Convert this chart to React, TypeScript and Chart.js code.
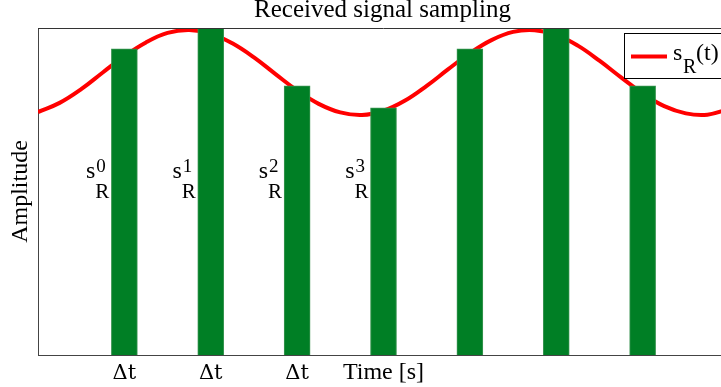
import React, { useEffect, useRef } from 'react';
import { Chart, registerables } from 'chart.js';

Chart.register(...registerables);

const TITLE = 'Received signal sampling';
const X_TITLE = 'Time [s]';
const Y_TITLE = 'Amplitude';
const LEGEND_MAIN = 's';
const LEGEND_SUB = 'R';
const LEGEND_TAIL = '(t)';
const SAMPLE_MAIN = 's';
const SAMPLE_SUB = 'R';
const DELTA_LABEL = 'Δt';

// continuous received signal s_R(t)
const signalTimes = [
  0, 0.25, 0.5, 0.75, 1, 1.25, 1.5, 1.75, 2, 2.25, 2.5, 2.75, 3, 3.25, 3.5, 3.75,
  4, 4.25, 4.5, 4.75, 5, 5.25, 5.5, 5.75, 6, 6.25, 6.5, 6.75, 7, 7.25, 7.5, 7.75, 8,
];
const signalValues = [
  0.743, 0.771, 0.813, 0.864, 0.914, 0.956, 0.985, 0.994, 0.983, 0.953, 0.91, 0.859,
  0.809, 0.768, 0.742, 0.734, 0.747, 0.778, 0.823, 0.874, 0.923, 0.963, 0.988, 0.993,
  0.979, 0.946, 0.9, 0.849, 0.8, 0.761, 0.739, 0.735, 0.752,
];

// sampled values (bars)
const sampleTimes = [1, 2, 3, 4, 5, 6, 7];
const sampleValues = [0.936, 1.0, 0.823, 0.756, 0.936, 1.0, 0.823];
// superscript indices for the first labelled samples
const sampleIndices = ['0', '1', '2', '3'];
// ticks that carry the Δt label
const deltaTickValues = [1, 2, 3];

const SERIF = '"Liberation Serif", "Times New Roman", serif';

const overlayPlugin = {
  id: 'overlay',
  afterDatasetsDraw(chart: any) {
    const { ctx, chartArea } = chart;
    ctx.save();
    // title
    ctx.fillStyle = '#000';
    ctx.font = `25px ${SERIF}`;
    ctx.textAlign = 'center';
    ctx.textBaseline = 'alphabetic';
    ctx.fillText(TITLE, (chartArea.left + chartArea.right) / 2 - 1, chartArea.top - 11);

    // top frame line
    ctx.strokeStyle = '#333';
    ctx.lineWidth = 1;
    ctx.beginPath();
    ctx.moveTo(chartArea.left, chartArea.top + 0.5);
    ctx.lineTo(chartArea.right, chartArea.top + 0.5);
    ctx.stroke();

    // sample labels s_R^k
    const barMeta = chart.getDatasetMeta(1);
    const yScale = chart.scales.y;
    const baseY = yScale.getPixelForValue(0.54);
    ctx.fillStyle = '#000';
    sampleIndices.forEach((idx, i) => {
      const bar = barMeta.data[i];
      if (!bar) return;
      const { x, width } = bar.getProps(['x', 'width'], true);
      const anchor = x - width / 2 - 2;
      ctx.font = `21px ${SERIF}`;
      const wSub = ctx.measureText(SAMPLE_SUB).width;
      const subLeft = anchor - wSub;
      ctx.textAlign = 'left';
      ctx.fillText(SAMPLE_SUB, subLeft, baseY + 19.5);
      ctx.font = `19px ${SERIF}`;
      ctx.fillText(idx, subLeft + 1, baseY - 6);
      ctx.font = `24px ${SERIF}`;
      ctx.textAlign = 'right';
      ctx.fillText(SAMPLE_MAIN, subLeft, baseY);
    });

    // legend box
    const bx = chartArea.right - 105;
    const by = chartArea.top + 5;
    ctx.fillStyle = '#fff';
    ctx.fillRect(bx, by, 120, 45);
    ctx.strokeStyle = '#000';
    ctx.lineWidth = 1;
    ctx.strokeRect(bx + 0.5, by + 0.5, 120, 45);
    ctx.strokeStyle = '#ff0000';
    ctx.lineWidth = 4;
    ctx.beginPath();
    ctx.moveTo(bx + 7, by + 23.5);
    ctx.lineTo(bx + 43, by + 23.5);
    ctx.stroke();
    ctx.fillStyle = '#000';
    ctx.textAlign = 'left';
    ctx.font = `24px ${SERIF}`;
    ctx.fillText(LEGEND_MAIN, bx + 49, by + 27);
    ctx.font = `20px ${SERIF}`;
    ctx.fillText(LEGEND_SUB, bx + 59, by + 40);
    ctx.font = `24px ${SERIF}`;
    ctx.fillText(LEGEND_TAIL, bx + 72, by + 27);
    ctx.restore();
  },
};

export default function App() {
  const ref = useRef<HTMLCanvasElement | null>(null);

  useEffect(() => {
    if (!ref.current) return;
    const chart = new Chart(ref.current, {
      type: 'line',
      data: {
        datasets: [
          {
            type: 'line',
            label: 's_R(t)',
            data: signalTimes.map((t, i) => ({ x: t, y: signalValues[i] })),
            borderColor: '#ff0000',
            borderWidth: 4,
            pointRadius: 0,
            tension: 0.4,
            fill: false,
            order: 2,
          },
          {
            type: 'bar',
            label: 'samples',
            data: sampleTimes.map((t, i) => ({ x: t, y: sampleValues[i] })),
            backgroundColor: '#007f25',
            borderColor: '#3a9552',
            borderWidth: 1,
            barThickness: 26,
            order: 1,
          } as any,
        ],
      },
      options: {
        responsive: false,
        animation: false,
        layout: { padding: { left: 0, top: 28, right: 11, bottom: 0 } },
        plugins: {
          legend: { display: false },
          tooltip: { enabled: false },
          title: { display: false },
        },
        scales: {
          x: {
            type: 'linear',
            min: 0,
            max: 8,
            offset: false,
            grid: { display: false, drawTicks: false },
            border: { display: true, color: '#444', width: 1 },
            ticks: {
              stepSize: 1,
              autoSkip: false,
              maxRotation: 0,
              padding: 6,
              color: '#000',
              font: { family: '"DejaVu Serif", serif', size: 21 },
              callback: (v: any) => (deltaTickValues.includes(Number(v)) ? DELTA_LABEL : ''),
            },
            title: {
              display: true,
              text: X_TITLE,
              color: '#000',
              font: { family: SERIF, size: 24 },
              padding: { top: 0, bottom: 0 },
            },
            afterFit: (scale: any) => {
              scale.height = 32;
            },
          },
          y: {
            type: 'linear',
            min: 0,
            max: 1,
            grid: { display: false, drawTicks: false },
            border: { display: true, color: '#444', width: 1 },
            ticks: { display: false },
            title: {
              display: true,
              text: Y_TITLE,
              color: '#000',
              font: { family: SERIF, size: 24 },
              padding: { top: 6, bottom: 0 },
            },
            afterFit: (scale: any) => {
              scale.width = 38;
            },
          },
        },
      } as any,
      plugins: [overlayPlugin],
    });
    return () => chart.destroy();
  }, []);

  return (
    <div
      style={{
        position: 'fixed',
        left: 0,
        top: 0,
        width: 721,
        height: 387,
        overflow: 'hidden',
        background: '#fff',
      }}
    >
      <canvas ref={ref} width={740} height={387} style={{ display: 'block' }} />
    </div>
  );
}
